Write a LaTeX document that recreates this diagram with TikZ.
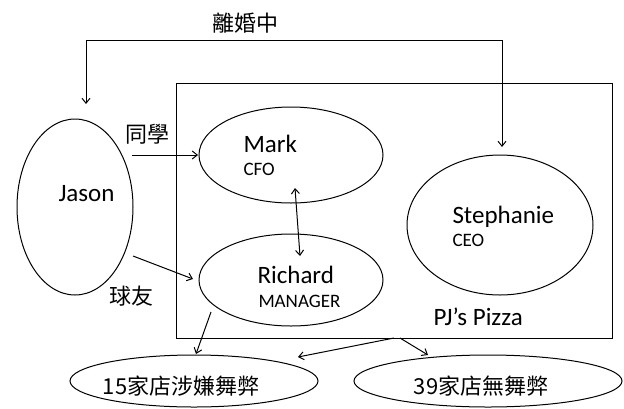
\documentclass[tikz,border=0pt]{standalone}
\usepackage{fontspec}
\setmainfont{Carlito}
\newfontfamily\cjk{Noto Sans CJK TC}
\usetikzlibrary{arrows.meta,shapes.geometric}
\begin{document}
\begin{tikzpicture}[x=1pt,y=-1pt,
  line width=1pt,
  oval/.style={draw,ellipse,inner sep=0pt},
  big/.style={font=\fontsize{25}{25}\selectfont,inner sep=0pt,anchor=base west},
  small/.style={font=\fontsize{19}{19}\selectfont,inner sep=0pt,anchor=base west},
  zh/.style={font=\cjk\fontsize{22}{22}\selectfont,inner sep=0pt},
  arr/.style={-{Straight Barb[length=5pt,width=8pt]}},
  darr/.style={{Straight Barb[length=5pt,width=8pt]}-{Straight Barb[length=5pt,width=8pt]}}]
\useasboundingbox (0,0) rectangle (624,408);
% company box
\node[draw,minimum width=436pt,minimum height=255pt,inner sep=0pt] (pj) at (394,210.5) {};
% ellipses
\node[oval,minimum width=116pt,minimum height=176pt] (jason) at (75,207) {};
\node[oval,minimum width=184pt,minimum height=96pt] (mark) at (291,155) {};
\node[oval,minimum width=184pt,minimum height=92pt] (richard) at (291,280) {};
\node[oval,minimum width=186pt,minimum height=140pt] (steph) at (500,225) {};
\node[oval,minimum width=248pt,minimum height=52pt] (fraud) at (194,381) {};
\node[oval,minimum width=268pt,minimum height=52pt] (clean) at (488,381) {};
% texts
\node[big] (tjason) at (58,201) {Jason};
\node[big] (tmark) at (243,152) {Mark};
\node[small] (tcfo) at (243,175) {CFO};
\node[big] (trich) at (257,283) {Richard};
\node[small] (tman) at (258,307) {MANAGER};
\node[big] (tsteph) at (452,223) {Stephanie};
\node[small] (tceo) at (452,246) {CEO};
\node[big] (tpj) at (433,325) {PJ’s Pizza};
\node[zh] (tdiv) at (245,23) {離婚中};
\node[zh] (tclass) at (147,134) {同學};
\node[zh] (tball) at (131,296) {球友};
\node[zh] (tfraud) at (181,386) {15家店涉嫌舞弊};
\node[zh] (tclean) at (481,386) {39家店無舞弊};
% connector end points
\coordinate (jtop) at (86,104);
\coordinate (stop) at (502,147);
\coordinate (j1) at (132,155);
\coordinate (m1) at (198,155);
\coordinate (j2) at (133,256);
\coordinate (r1) at (193,279);
\coordinate (m2) at (295,188);
\coordinate (r2) at (300,256);
\coordinate (r3) at (211,312);
\coordinate (f1) at (196,354);
\coordinate (b1) at (394,338);
\coordinate (b2) at (400,338);
\coordinate (f2) at (298,357);
\coordinate (c1) at (428,355);
% connectors
\draw[darr] (jtop) -- ++(0,-64) -| (stop);
\draw[arr] (j1) -- (m1);
\draw[arr] (j2) -- (r1);
\draw[darr] (m2) -- (r2);
\draw[arr] (r3) -- (f1);
\draw[arr] (b1) -- (f2);
\draw[arr] (b2) -- (c1);
\end{tikzpicture}
\end{document}
